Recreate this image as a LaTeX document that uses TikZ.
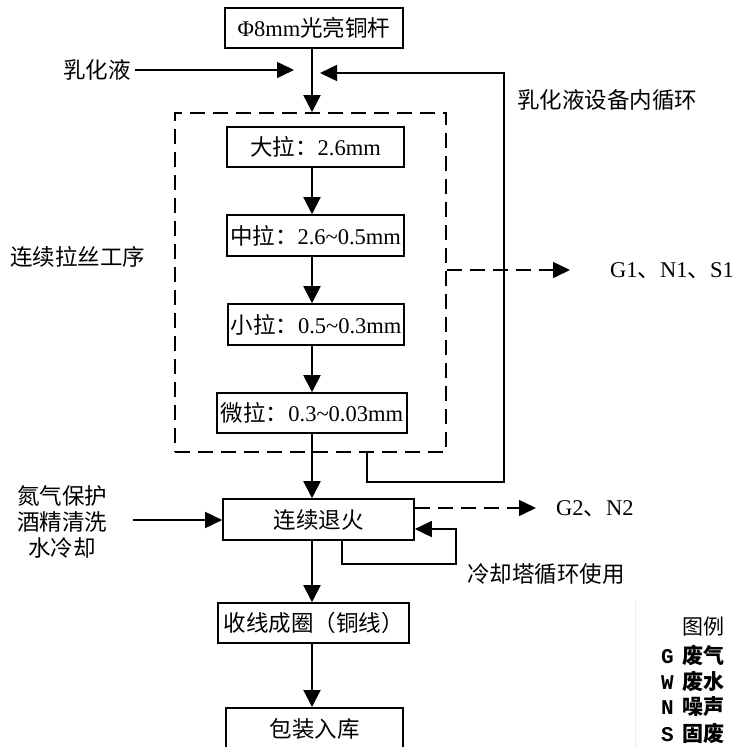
\documentclass[tikz,border=0pt]{standalone}
\usepackage{fontspec}
\setmainfont{Liberation Serif}
\newfontfamily\cjk{Noto Sans CJK SC}
\newfontfamily\legmono{Liberation Mono}
\usetikzlibrary{arrows.meta}
\newcommand\fsz{\fontsize{22.5}{27}\selectfont}
\newcommand\tl{\textasciitilde}
\begin{document}
\begin{tikzpicture}[x=1pt,y=-1pt,
  box/.style={draw, line width=1.6pt, inner sep=0pt, minimum height=40pt, font=\fsz},
  flow/.style={line width=2pt, -{Triangle[length=17pt,width=17pt]}},
  thinarrow/.style={line width=1.5pt, -{Triangle[length=17pt,width=16pt]}},
  dasharrow/.style={line width=1.5pt, dash pattern=on 15pt off 8pt, -{Triangle[length=17pt,width=16pt]}},
  dashbox/.style={draw, line width=1.8pt, dash pattern=on 15pt off 8pt},
  lbl/.style={font=\fsz, inner sep=0pt},
  leg/.style={font=\fontsize{21}{25}\selectfont, inner sep=0pt, anchor=west}
]
\useasboundingbox (0,0) rectangle (739,747);

% main axis
\coordinate (ax) at (312,0);

% boxes
\node[box, minimum width=178pt] (top) at (314,28) {Φ8mm{\cjk 光亮铜杆}};
\node[dashbox, minimum width=271pt, minimum height=339pt, inner sep=0pt] (dk) at (310.5,282.5) {};
\node[box, minimum width=177pt] (dala) at (315.5,147) {{\cjk 大拉：}2.6mm};
\node[box, minimum width=177pt, minimum height=41pt] (zhong) at (315.5,235.5) {{\cjk 中拉：}2.6\tl0.5mm};
\node[box, minimum width=176pt, minimum height=41pt] (xiao) at (316,324.5) {{\cjk 小拉：}0.5\tl0.3mm};
\node[box, minimum width=190pt] (wei) at (312,413) {{\cjk 微拉：}0.3\tl0.03mm};
\node[box, minimum width=191pt, minimum height=41pt] (tui) at (318.5,519.5) {\cjk 连续退火};
\node[box, minimum width=191pt] (shou) at (313.5,623) {\cjk 收线成圈（铜线）};
\node[box, minimum width=177pt, minimum height=42pt, anchor=north] (bao) at (314.5,707) {\cjk 包装入库};

% main flow arrows
\draw[flow] (top.south -| ax) -- (dk.north -| ax);
\draw[flow] (dala.south -| ax) -- (zhong.north -| ax);
\draw[flow] (zhong.south -| ax) -- (xiao.north -| ax);
\draw[flow] (xiao.south -| ax) -- (wei.north -| ax);
\draw[flow] (wei.south -| ax) -- (tui.north -| ax);
\draw[flow] (tui.south -| ax) -- (shou.north -| ax);
\draw[flow] (shou.south -| ax) -- (bao.north -| ax);

% emulsion input
\node[lbl, anchor=east] (ruhua) at (131,70) {\cjk 乳化液};
\coordinate (ruhuatip) at (294,70);
\draw[thinarrow] (ruhua.east) ++(4,0) -- (ruhuatip);

% emulsion internal loop
\coordinate (lp0) at (367,452);
\coordinate (lp1) at (367,482);
\coordinate (lp2) at (504,482);
\coordinate (lp3) at (504,73);
\coordinate (lp4) at (320,73);
\draw[thinarrow] (lp0) -- (lp1) -- (lp2) -- (lp3) -- (lp4);
\node[lbl, anchor=west] (loopl) at (517,100) {\cjk 乳化液设备内循环};

% section label
\node[lbl, anchor=west] (sec) at (10,257) {\cjk 连续拉丝工序};

% G1 output
\coordinate (g1tip) at (570,270);
\draw[dasharrow] (dk.east |- g1tip) -- (g1tip);
\node[lbl, anchor=west] (g1) at (610,271) {G1{\cjk 、}N1{\cjk 、}S1};

% annealing inputs
\node[lbl, align=center, font=\fsz\cjk] (inp) at (62,522) {氮气保护\\[-1pt]酒精清洗\\[-1pt]水冷却};
\coordinate (inps) at (133,520);
\draw[thinarrow] (inps) -- (tui.west |- inps);

% G2 output
\coordinate (g2tip) at (536,508);
\draw[dasharrow] (tui.east |- g2tip) -- (g2tip);
\node[lbl, anchor=west] (g2) at (556,509) {G2{\cjk 、}N2};

% cooling loop
\coordinate (cl0) at (342,540);
\coordinate (cl1) at (342,564);
\coordinate (cl2) at (456,564);
\coordinate (cl3) at (456,529);
\draw[thinarrow] (cl0) -- (cl1) -- (cl2) -- (cl3) -- (tui.east |- cl3);
\node[lbl, anchor=west] (cool) at (467,574) {\cjk 冷却塔循环使用};

% legend
\draw[black!8, line width=0.8pt] (635,600) -- (635,747);
\node[leg, anchor=center] (legt) at (703,627) {\cjk 图例};
\node[leg] (lg) at (661,655) {\legmono\bfseries G\hspace{9pt}{\cjk 废气}};
\node[leg] (lw) at (661,681) {\legmono\bfseries W\hspace{9pt}{\cjk 废水}};
\node[leg] (ln) at (661,707) {\legmono\bfseries N\hspace{9pt}{\cjk 噪声}};
\node[leg] (ls) at (661,733) {\legmono\bfseries S\hspace{9pt}{\cjk 固废}};
\end{tikzpicture}
\end{document}
